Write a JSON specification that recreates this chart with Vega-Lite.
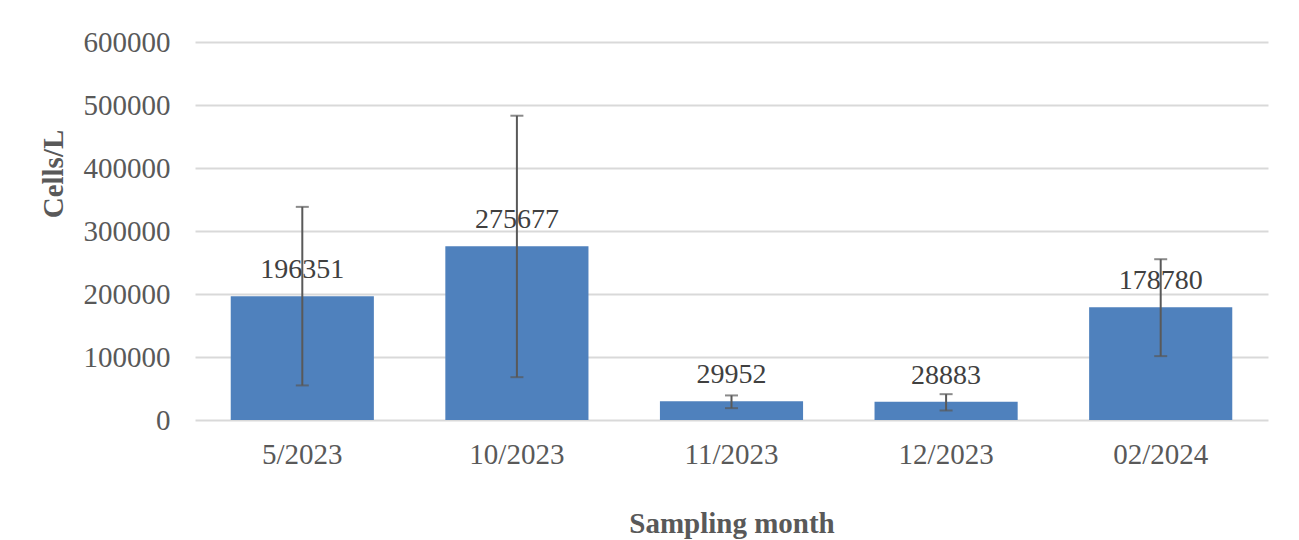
{
  "$schema": "https://vega.github.io/schema/vega-lite/v6.json",
  "autosize": {"type": "none"},
  "padding": {"left": 195, "top": 42, "right": 31, "bottom": 120},
  "width": 1073,
  "height": 378,
  "background": "white",
  "config": {
    "view": {"stroke": null},
    "font": "Liberation Serif"
  },
  "data": {
    "values": [
      {"month": "5/2023", "cells": 196351, "lo": 54900, "hi": 338300},
      {"month": "10/2023", "cells": 275677, "lo": 68000, "hi": 483000},
      {"month": "11/2023", "cells": 29952, "lo": 18800, "hi": 39000},
      {"month": "12/2023", "cells": 28883, "lo": 15100, "hi": 41000},
      {"month": "02/2024", "cells": 178780, "lo": 101400, "hi": 255200}
    ]
  },
  "encoding": {
    "x": {
      "field": "month",
      "type": "nominal",
      "sort": null,
      "scale": {"paddingInner": 0.333, "paddingOuter": 0.1665},
      "axis": {
        "title": "Sampling month",
        "labelAngle": 0,
        "labelFont": "Liberation Serif",
        "labelFontSize": 29,
        "labelColor": "#595959",
        "labelPadding": 20,
        "domain": false,
        "ticks": false,
        "titleFont": "Liberation Serif",
        "titleFontSize": 29,
        "titleFontWeight": "bold",
        "titleColor": "#595959",
        "titleY": 112,
        "titleBaseline": "alphabetic"
      }
    }
  },
  "layer": [
    {
      "mark": {"type": "bar", "color": "#4F81BD"},
      "encoding": {
        "y": {
          "field": "cells",
          "type": "quantitative",
          "scale": {"domain": [0, 600000], "nice": false},
          "axis": {
            "title": "Cells/L",
            "values": [0, 100000, 200000, 300000, 400000, 500000, 600000],
            "format": "d",
            "labelFont": "Liberation Serif",
            "labelFontSize": 29,
            "labelColor": "#595959",
            "labelPadding": 25,
            "domain": false,
            "ticks": false,
            "grid": true,
            "gridColor": "#D9D9D9",
            "gridWidth": 2,
            "titleFont": "Liberation Serif",
            "titleFontSize": 29,
            "titleFontWeight": "bold",
            "titleColor": "#595959",
            "titleX": -133,
            "titleY": 131.5,
            "titleAngle": -90,
            "titleBaseline": "alphabetic",
            "titleAlign": "center"
          }
        }
      }
    },
    {
      "mark": {"type": "rule", "color": "#595959", "strokeWidth": 2},
      "encoding": {
        "y": {"field": "lo", "type": "quantitative"},
        "y2": {"field": "hi"}
      }
    },
    {
      "mark": {"type": "tick", "color": "#595959", "thickness": 2, "size": 13},
      "encoding": {"y": {"field": "lo", "type": "quantitative"}}
    },
    {
      "mark": {"type": "tick", "color": "#595959", "thickness": 2, "size": 13},
      "encoding": {"y": {"field": "hi", "type": "quantitative"}}
    },
    {
      "mark": {"type": "text", "font": "Liberation Serif", "fontSize": 28, "color": "#404040", "baseline": "alphabetic", "dy": -18},
      "encoding": {
        "y": {"field": "cells", "type": "quantitative"},
        "text": {"field": "cells", "type": "quantitative", "format": "d"}
      }
    }
  ]
}
